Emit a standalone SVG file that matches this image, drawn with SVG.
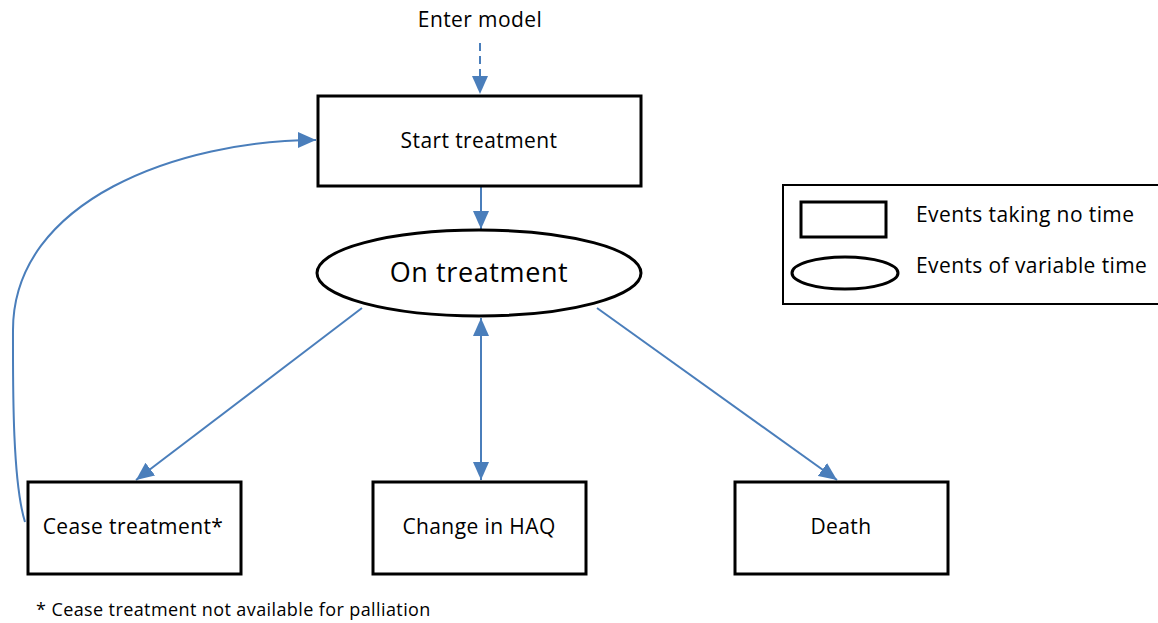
<svg xmlns="http://www.w3.org/2000/svg" width="1158" height="623" viewBox="0 0 1158 623">
<style>
.box{fill:#fff;stroke:#000;stroke-width:3}
.t{font-family:"Open Sans","Liberation Sans",sans-serif;font-size:21px;letter-spacing:0.4px;fill:#000;text-anchor:middle}
.tl{font-family:"Open Sans","Liberation Sans",sans-serif;font-size:21px;letter-spacing:0.4px;fill:#000}
.c{fill:none;stroke:#4a7ebb;stroke-width:2}
</style>
<defs>
<marker id="ahb" markerWidth="18" markerHeight="16" viewBox="0 0 18 16" refX="18" refY="8" orient="auto-start-reverse" markerUnits="userSpaceOnUse">
<path d="M0,0 L18,8 L0,16 Z" fill="#4a7ebb"/>
</marker>
</defs>
<text class="t" x="480" y="27">Enter model</text>
<g id="connectors">
<line class="c" x1="480" y1="43" x2="480" y2="94" stroke-dasharray="8,5" marker-end="url(#ahb)"/>
<line class="c" x1="481" y1="187" x2="481" y2="229" marker-end="url(#ahb)"/>
<line class="c" x1="362" y1="308" x2="136" y2="480" marker-end="url(#ahb)"/>
<line class="c" x1="481" y1="318" x2="481" y2="480" marker-start="url(#ahb)" marker-end="url(#ahb)"/>
<line class="c" x1="597" y1="308" x2="837" y2="480" marker-end="url(#ahb)"/>
<path class="c" d="M25,522 C12,480 13,380 13,330 C13,200 180,140 316,140" marker-end="url(#ahb)"/>
</g>
<g id="start">
<rect class="box" x="318" y="96" width="323" height="90"/>
<text class="t" x="479" y="148">Start treatment</text>
</g>
<g id="on">
<ellipse class="box" cx="479" cy="273" rx="162" ry="43"/>
<text class="t" x="479" y="282" style="font-size:27px;letter-spacing:0.6px">On treatment</text>
</g>
<g id="cease">
<rect class="box" x="28" y="482" width="213" height="92"/>
<text class="t" x="133" y="534">Cease treatment*</text>
</g>
<g id="haq">
<rect class="box" x="373" y="482" width="213" height="92"/>
<text class="t" x="479" y="534">Change in HAQ</text>
</g>
<g id="death">
<rect class="box" x="735" y="482" width="213" height="92"/>
<text class="t" x="841" y="534">Death</text>
</g>
<g id="legend">
<rect x="783" y="185" width="380" height="119" fill="#fff" stroke="#000" stroke-width="2"/>
<rect class="box" x="801" y="202" width="85" height="35"/>
<ellipse class="box" cx="845" cy="273" rx="53" ry="16"/>
<text class="tl" x="916" y="222">Events taking  no time</text>
<text class="tl" x="916" y="273">Events of variable time</text>
</g>
<text class="tl" x="36" y="616" style="font-size:18px">* Cease treatment not  available for palliation</text>
</svg>
